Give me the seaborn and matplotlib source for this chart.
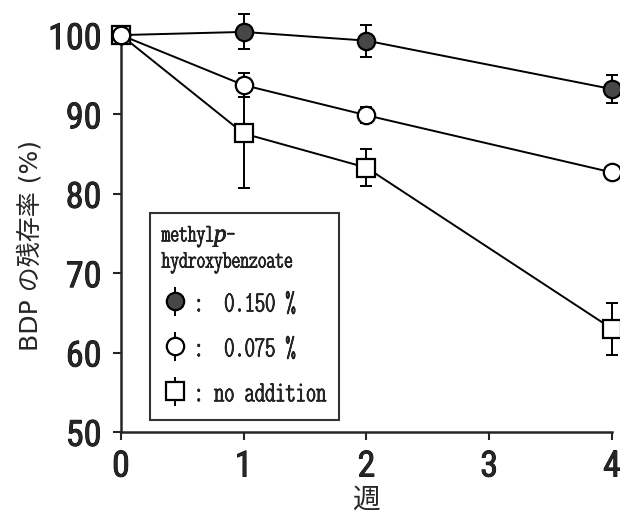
import matplotlib
matplotlib.use("Agg")
import matplotlib.pyplot as plt
import matplotlib.patheffects as pe
import seaborn as sns
import pandas as pd

weeks = [0, 1, 2, 4]
high_vals = [100.0, 100.4, 99.3, 93.2]
high_err = [0.0, 2.2, 2.0, 1.8]
mid_vals = [100.0, 93.7, 89.9, 82.7]
mid_err = [0.0, 1.5, 1.0, 0.0]
none_vals = [100.0, 87.6, 83.3, 63.0]
none_err = [0.0, 6.9, 2.3, 3.3]
labels = [":  0.150 %", ":  0.075 %", ": no addition"]
y_ticks = [50, 60, 70, 80, 90, 100]
x_ticks = [0, 1, 2, 3, 4]

sns.set_style("ticks")
plt.rcParams['font.family'] = ['Roboto Condensed', 'Noto Sans CJK JP', 'DejaVu Sans']
plt.rcParams['mathtext.fontset'] = 'custom'
plt.rcParams['mathtext.it'] = 'Liberation Serif:italic'

fig = plt.figure(figsize=(6.2, 5.16), dpi=100)
ax = fig.add_axes([0.195, 0.163, 0.792, 0.769])

series = [
    (high_vals, high_err, 'o', '#474747', labels[0], 12.5),
    (mid_vals, mid_err, 'o', 'white', labels[1], 12.5),
    (none_vals, none_err, 's', 'white', labels[2], 13),
]
zorders = [3, 5, 4]
handles = []
for (vals, errs, mk, fc, lab, ms), z in zip(series, zorders):
    df = pd.DataFrame({'week': weeks, 'val': vals})
    ax.errorbar(weeks, vals, yerr=errs, fmt='none', ecolor='black', elinewidth=1.4,
                capsize=4, capthick=1.4, zorder=z - 0.5, clip_on=False)
    sns.lineplot(data=df, x='week', y='val', ax=ax, color='black', linewidth=1.4,
                 marker=mk, markersize=ms, markerfacecolor=fc, markeredgecolor='black',
                 markeredgewidth=1.6, zorder=z, clip_on=False)
    h = ax.errorbar([], [], yerr=[], fmt=mk, mfc=fc, mec='black', mew=1.6, ms=ms,
                    ecolor='black', capsize=4, elinewidth=1.4)
    handles.append(h)

ax.set_xlim(0, 4)
ax.set_ylim(50, 100)
ax.set_xticks(x_ticks)
ax.set_yticks(y_ticks)
ax.tick_params(axis='both', labelsize=26, length=6, width=1.5, direction='out')
ax.tick_params(axis='y', pad=8)
ax.tick_params(axis='x', pad=6)
for lab in ax.get_xticklabels() + ax.get_yticklabels():
    lab.set_path_effects([pe.withStroke(linewidth=0.6, foreground='black')])
for s in ['top', 'right']:
    ax.spines[s].set_visible(False)
for s in ['left', 'bottom']:
    ax.spines[s].set_linewidth(1.8)

ax.set_xlabel('週', fontsize=20, family=['Noto Sans CJK JP'], labelpad=0)
ax.set_ylabel('BDP の残存率 (%)', fontsize=18, family=['DejaVu Sans', 'Noto Sans CJK JP'], labelpad=12)
ax.yaxis.set_label_coords(-0.16, 0.47)

leg = ax.legend(handles=handles, labels=labels, loc='lower left',
                bbox_to_anchor=(0.059, 0.03), title='methyl$\\it{p}$-\nhydroxybenzoate',
                frameon=True, fancybox=False, edgecolor='black', handlelength=0.9,
                handletextpad=0.2, borderpad=0.4, labelspacing=0.6, borderaxespad=0,
                prop={'family': 'Latin Modern Mono Light Cond', 'size': 21})
leg.get_frame().set_linewidth(1.5)
leg.get_title().set_family('Latin Modern Mono Light Cond')
leg.get_title().set_fontsize(18)
leg._legend_box.align = 'left'
leg.set_zorder(10)
for t in leg.get_texts() + [leg.get_title()]:
    t.set_path_effects([pe.withStroke(linewidth=0.5, foreground='black')])

fig.savefig('out.png', dpi=100, facecolor='white')
